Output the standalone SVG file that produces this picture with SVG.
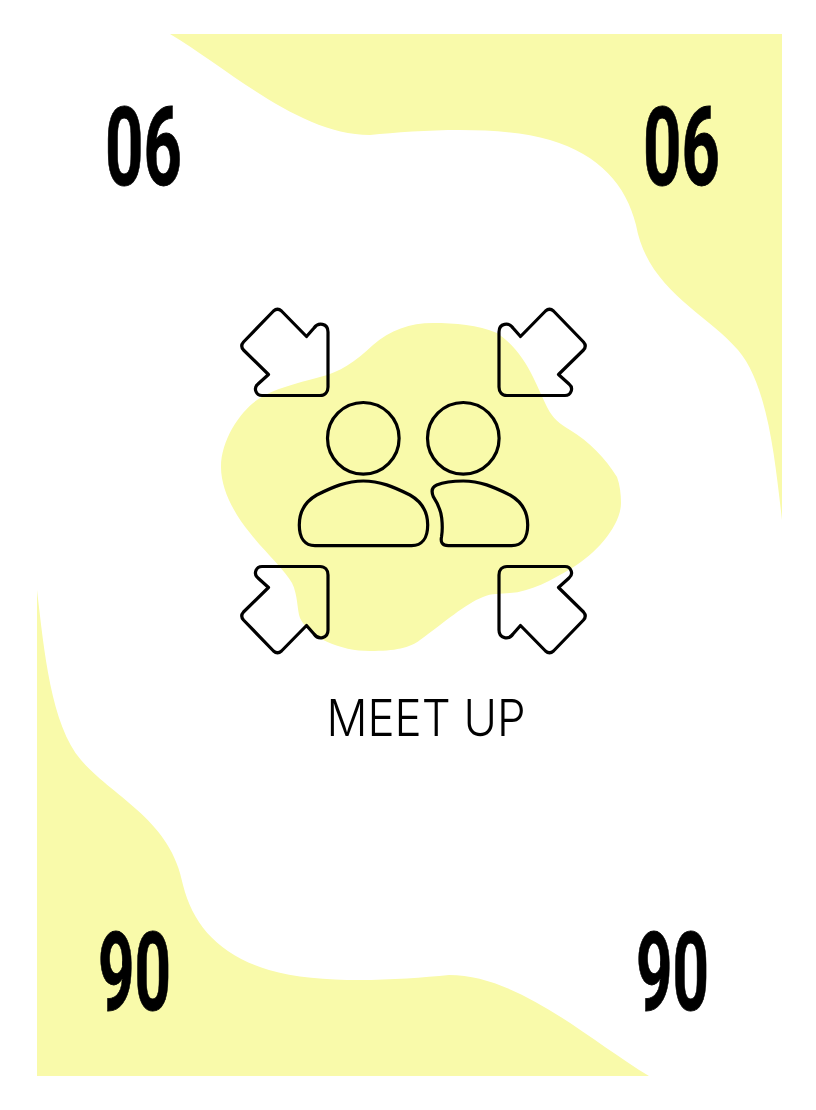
<svg xmlns="http://www.w3.org/2000/svg" width="816" height="1110" viewBox="0 0 816 1110">
<style>
.blob{fill:#f9faaa}
.ic{fill:none;stroke:#000;stroke-width:3.2;stroke-linejoin:round}
.num{font-family:"Roboto","Liberation Sans",sans-serif;font-weight:700;font-size:109px;fill:#000;stroke:#000;stroke-width:0.8}
.lab{font-family:"Inter","Liberation Sans",sans-serif;font-weight:300;font-size:51px;fill:#000}
</style>
<defs>
<path id="corner" class="blob" d="M170,34 L782,34 L782,520 C775,460 768,385 738,350 C705,312 648,290 636,225 C626,185 600,155 550,140 C500,125 420,130 370,135 C300,135 230,70 170,34 Z"/>
<path id="arrow" class="ic" d="M273.5,311 Q277.5,307.5 281.5,311 L306.5,336.5 L314,328 C318,322 328,323 328,332 L328,387 C328,392 325,395.5 320,395.5 L262,395.5 C256,395.5 253,388 258,384 L268.5,374.5 L243.5,350 Q240,346 243.5,342 Z"/>
</defs>
<rect width="816" height="1110" fill="#fff"/>
<g id="background">
<use href="#corner"/>
<use href="#corner" transform="rotate(180 409.5 555)"/>
<path class="blob" d="M433,323 C410,323 390,330 373,345 C355,362 340,372 320,377 C295,384 275,388 257,400 C240,412 221,440 221,467 C221,490 235,515 250,533 C265,552 285,570 292,583 C298,595 297,610 300,618 C310,638 340,651 370,651 C395,651 410,648 420,640 C445,622 465,604 483,597 C492,593 500,594 510,593 C530,592 552,580 572,568 C597,553 621,525 621,503 C621,495 620,485 617,477 C605,458 590,442 570,430 C560,424 553,419 547,407 C542,397 538,387 533,377 C525,360 512,343 497,333 C478,325 455,323 433,323 Z"/>
</g>
<g id="arrows">
<use href="#arrow"/>
<use href="#arrow" transform="translate(827,0) scale(-1,1)"/>
<use href="#arrow" transform="translate(0,962) scale(1,-1)"/>
<use href="#arrow" transform="translate(827,962) scale(-1,-1)"/>
</g>
<g id="person-left">
<circle class="ic" cx="363.3" cy="438.3" r="35.8"/>
<path class="ic" d="M363.3,481 C346.7,481 333.3,486.7 316.7,495 C305,501.7 299.3,511.7 299.3,525 C299.3,538.3 305,545.7 315,545.7 L411.7,545.7 C421.7,545.7 427.7,538.3 427.7,525 C427.7,511.7 421.7,501.7 410,495 C393.3,486.7 380,481 363.3,481 Z"/>
</g>
<g id="person-right">
<circle class="ic" cx="463.3" cy="438.3" r="35.8"/>
<path class="ic" d="M463.3,481 C452,481 444,482 436.7,485 C432,487 431,491 433.3,496.7 C438,504 441,511 441.7,518 C442.5,525 442.7,530 441.5,537 C440.5,542 442,545.7 448.3,545.7 L511.7,545.7 C521.7,545.7 527.7,538.3 527.7,525 C527.7,511.7 521.7,501.7 510,495 C493.3,486.7 480,481 463.3,481 Z"/>
</g>
<g id="labels">
<text class="num" x="105" y="185" textLength="77" lengthAdjust="spacingAndGlyphs">06</text>
<text class="num" x="643" y="185" textLength="77" lengthAdjust="spacingAndGlyphs">06</text>
<text class="num" x="98" y="1010" textLength="73" lengthAdjust="spacingAndGlyphs">90</text>
<text class="num" x="636" y="1010" textLength="73" lengthAdjust="spacingAndGlyphs">90</text>
<text class="lab" x="326.5" y="736" textLength="199" lengthAdjust="spacingAndGlyphs">MEET UP</text>
</g>
</svg>
